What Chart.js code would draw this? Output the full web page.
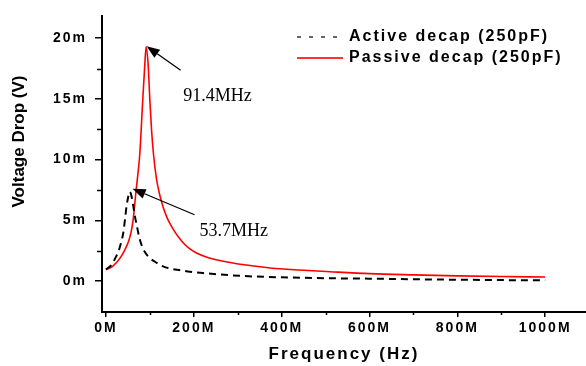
<!DOCTYPE html>
<html>
<head>
<meta charset="utf-8">
<script src="https://cdn.jsdelivr.net/npm/chart.js@4.4.1/dist/chart.umd.min.js"></script>
<style>
	html, body { margin: 0; padding: 0; background: #fff; }
	#grafico { display: block; }
</style>
</head>
<body>
<canvas id="grafico" width="586" height="366"></canvas>
<script>
// frequency in MHz, voltage drop in mV
const activeFreq = [0, 13, 20, 28, 34, 39.5, 44, 47, 51, 53.7, 57, 62, 66, 70, 75, 81, 90, 100, 115, 130, 146, 170, 191, 230, 305, 400, 510, 600, 700, 800, 900, 1000];
const activeVolt = [0.94, 1.35, 1.8, 2.4, 3.1, 4.0, 5.3, 6.2, 7.0, 7.35, 7.15, 6.2, 5.3, 4.6, 3.7, 2.96, 2.3, 1.88, 1.5, 1.2, 1.02, 0.88, 0.75, 0.62, 0.42, 0.3, 0.22, 0.19, 0.14, 0.1, 0.07, 0.05];

const passiveFreq = [0, 15, 32, 42, 51, 57, 62, 68, 72, 77, 83.5, 88, 91.4, 96, 100, 104, 108, 115, 123, 130, 138, 146, 155, 165, 180, 191, 206, 230, 267, 310, 374, 440, 510, 600, 700, 800, 900, 1000];
const passiveVolt = [0.94, 1.2, 1.88, 2.5, 3.23, 4.0, 5.1, 7.27, 8.6, 10.5, 14.8, 17.6, 19.3, 17.8, 14.8, 12.3, 10.5, 8.4, 7.0, 6.1, 5.3, 4.7, 4.15, 3.62, 2.98, 2.64, 2.3, 1.96, 1.62, 1.35, 1.07, 0.9, 0.76, 0.6, 0.5, 0.42, 0.36, 0.32];

const seriesLabels = ["Active decap (250pF)", "Passive decap (250pF)"];

// resonance peaks pointed at by the arrows (passive, active)
const peakFreq = [91.4, 53.7];
const peakVolt = [19.3, 7.35];

const xTicks = [0, 200, 400, 600, 800, 1000];
const xMinor = [100, 300, 500, 700, 900];
const yTicks = [0, 5, 10, 15, 20];
const yMinor = [2.5, 7.5, 12.5, 17.5];

const fonte = "Liberation Sans";

function pontos(freq, volt) {
	return freq.map((f, i) => ({ x: f, y: volt[i] }));
}

// pixel offsets of arrow tip, tail and text from each peak
const setas = [
	{ dx: 0.5, dy: -0.5, tailDx: 34, tailDy: 24, textDx: 37, textDy: 54 },
	{ dx: 3, dy: -3, tailDx: 62, tailDy: 26, textDx: 70, textDy: 44 },
];

const extras = {
	id: "extras",
	beforeDraw(chart) {
		chart.ctx.letterSpacing = "2px";
	},
	afterDraw(chart) {
		const ctx = chart.ctx;
		const area = chart.chartArea;
		const x = chart.scales.x;
		const y = chart.scales.y;

		// minor ticks
		ctx.save();
		ctx.strokeStyle = "#000";
		ctx.lineWidth = 1.5;
		ctx.beginPath();
		xMinor.forEach((v) => {
			const px = Math.round(x.getPixelForValue(v)) + 0.5;
			ctx.moveTo(px, area.bottom);
			ctx.lineTo(px, area.bottom + 3);
		});
		yMinor.forEach((v) => {
			const py = Math.round(y.getPixelForValue(v)) + 0.5;
			ctx.moveTo(area.left, py);
			ctx.lineTo(area.left - 5, py);
		});
		ctx.stroke();
		ctx.restore();

		// y axis title
		ctx.save();
		ctx.letterSpacing = "0px";
		ctx.font = `bold 17px '${fonte}'`;
		ctx.fillStyle = "#000";
		ctx.translate(19, 141.5);
		ctx.rotate(-Math.PI / 2);
		ctx.textAlign = "center";
		ctx.textBaseline = "middle";
		ctx.fillText("Voltage Drop (V)", 0, 0);
		ctx.restore();

		// legend
		ctx.save();
		ctx.letterSpacing = "2px";
		ctx.font = `bold 16px '${fonte}'`;
		ctx.fillStyle = "#000";
		ctx.textBaseline = "middle";
		chart.data.datasets.forEach((ds, i) => {
			const ly = 37 + i * 21;
			ctx.beginPath();
			ctx.strokeStyle = ds.legendColor;
			ctx.lineWidth = ds.legendWidth;
			ctx.setLineDash(ds.legendDash);
			ctx.moveTo(297, ly);
			ctx.lineTo(343, ly);
			ctx.stroke();
			ctx.setLineDash([]);
			ctx.fillText(ds.label, 349, ly);
		});
		ctx.restore();

		// arrows + peak labels
		ctx.save();
		ctx.letterSpacing = "0px";
		ctx.fillStyle = "#000";
		ctx.strokeStyle = "#000";
		ctx.font = `18px 'Liberation Serif'`;
		ctx.textBaseline = "alphabetic";
		peakFreq.forEach((f, i) => {
			const s = setas[i];
			const px = x.getPixelForValue(f);
			const py = y.getPixelForValue(peakVolt[i]);
			const tx = px + s.dx;
			const ty = py + s.dy;
			const ex = tx + s.tailDx;
			const ey = ty + s.tailDy;
			const ang = Math.atan2(ty - ey, tx - ex);
			const len = 13;
			const half = 5;
			const bx = tx - len * Math.cos(ang);
			const by = ty - len * Math.sin(ang);
			ctx.beginPath();
			ctx.lineWidth = 1.3;
			ctx.moveTo(ex, ey);
			ctx.lineTo(bx, by);
			ctx.stroke();
			ctx.beginPath();
			ctx.moveTo(tx, ty);
			ctx.lineTo(bx + half * Math.sin(ang), by - half * Math.cos(ang));
			ctx.lineTo(bx - half * Math.sin(ang), by + half * Math.cos(ang));
			ctx.closePath();
			ctx.fill();
			ctx.fillText(`${f}MHz`, px + s.textDx, py + s.textDy);
		});
		ctx.restore();
	},
};

const grafico = new Chart(document.querySelector("#grafico"), {
	type: "line",
	data: {
		datasets: [
			{
				label: seriesLabels[0],
				data: pontos(activeFreq, activeVolt),
				borderColor: "#000",
				borderWidth: 2,
				borderDash: [7, 5],
				pointRadius: 0,
				cubicInterpolationMode: "monotone",
				fill: false,
				legendColor: "#333",
				legendWidth: 1.4,
				legendDash: [4, 8],
			},
			{
				label: seriesLabels[1],
				data: pontos(passiveFreq, passiveVolt),
				borderColor: "#ff0000",
				borderWidth: 1.6,
				pointRadius: 0,
				cubicInterpolationMode: "monotone",
				fill: false,
				legendColor: "#ff3333",
				legendWidth: 2,
				legendDash: [],
			},
		],
	},
	options: {
		responsive: false,
		devicePixelRatio: 1,
		animation: false,
		layout: { padding: { top: 10, right: 0, bottom: 0, left: 0 } },
		plugins: {
			legend: { display: false },
			tooltip: { enabled: false },
		},
		scales: {
			x: {
				type: "linear",
				min: -9.1,
				max: 1093,
				afterFit(scale) {
					scale.height = 54;
				},
				afterBuildTicks(scale) {
					scale.ticks = xTicks.map((v) => ({ value: v }));
				},
				ticks: {
					callback: (v) => `${v}M`,
					color: "#000",
					font: { family: fonte, weight: "bold", size: 14 },
					padding: 3,
					maxRotation: 0,
					autoSkip: false,
				},
				grid: {
					drawOnChartArea: false,
					color: "#000",
					lineWidth: 1.5,
					tickLength: 5,
				},
				border: { color: "#000", width: 2 },
				title: {
					display: true,
					text: "Frequency (Hz)",
					color: "#000",
					font: { family: fonte, weight: "bold", size: 17 },
					padding: { top: 0, bottom: 1 },
				},
			},
			y: {
				type: "linear",
				min: -2.56,
				max: 21.8,
				afterFit(scale) {
					scale.width = 102;
				},
				afterBuildTicks(scale) {
					scale.ticks = yTicks.map((v) => ({ value: v }));
				},
				ticks: {
					callback: (v) => `${v}m`,
					color: "#000",
					font: { family: fonte, weight: "bold", size: 14 },
					padding: 8,
				},
				grid: {
					drawOnChartArea: false,
					color: "#000",
					lineWidth: 1.5,
					tickLength: 7,
				},
				border: { color: "#000", width: 2 },
			},
		},
	},
	plugins: [extras],
});
</script>
</body>
</html>
